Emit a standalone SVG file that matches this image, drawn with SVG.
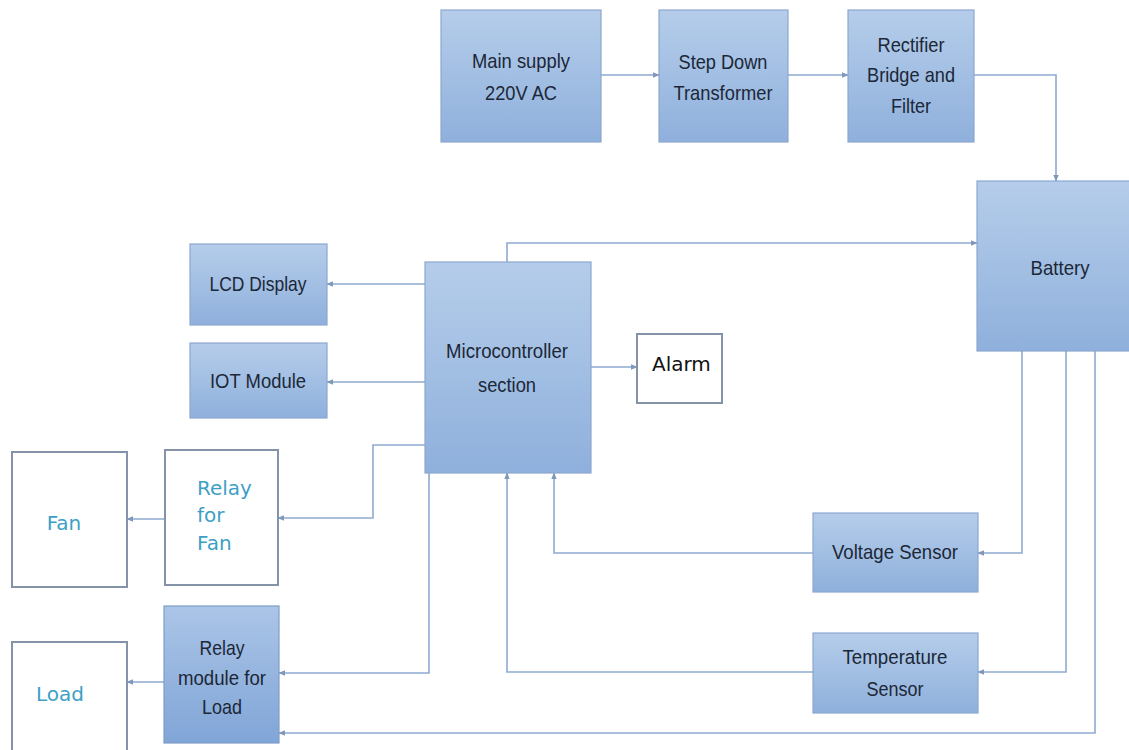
<svg xmlns="http://www.w3.org/2000/svg" width="1129" height="750" viewBox="0 0 1129 750">
  <defs>
    <linearGradient id="blue" x1="0" y1="0" x2="0" y2="1">
      <stop offset="0" stop-color="#b5cdea"/>
      <stop offset="1" stop-color="#8fb0dc"/>
    </linearGradient>
    <linearGradient id="blue2" x1="0" y1="0" x2="0" y2="1">
      <stop offset="0" stop-color="#abc5e7"/>
      <stop offset="1" stop-color="#80a5d7"/>
    </linearGradient>
    <marker id="arr" viewBox="0 0 10 10" refX="9" refY="5" markerWidth="7" markerHeight="7" markerUnits="userSpaceOnUse" orient="auto">
      <path d="M0,1 L10,5 L0,9 Z" fill="#7f98bb"/>
    </marker>
    <style>
      .box { fill: url(#blue); stroke: #8ba7cf; stroke-width: 1.2; }
      .box2 { fill: url(#blue2); stroke: #7f9dc8; stroke-width: 1.2; }
      .wbox { fill: #ffffff; stroke: #8593a8; stroke-width: 2; }
      .lbl { font-family: "Liberation Sans", Arial, sans-serif; font-size: 21px; fill: #1c2737; text-anchor: middle; }
      .tl { font-family: "DejaVu Sans", Verdana, sans-serif; font-size: 20px; fill: #3d9fc6; }
      .al { font-family: "DejaVu Sans", Verdana, sans-serif; font-size: 20px; fill: #111111; }
      .con { fill: none; stroke: #8eaacf; stroke-width: 1.6; }
      .arr { marker-end: url(#arr); }
    </style>
  </defs>
  <rect width="1129" height="750" fill="#ffffff"/>

  <g id="connectors">
    <path class="con arr" d="M601,75 L659,75"/>
    <path class="con arr" d="M788,75 L848,75"/>
    <path class="con arr" d="M974,75 L1056,75 L1056,181"/>
    <path class="con arr" d="M507,262 L507,243 L977,243"/>
    <path class="con arr" d="M425,284 L327,284"/>
    <path class="con arr" d="M425,382 L327,382"/>
    <path class="con arr" d="M591,367 L637,367"/>
    <path class="con arr" d="M425,445 L373,445 L373,518 L278,518"/>
    <path class="con arr" d="M165,519 L127,519"/>
    <path class="con arr" d="M429,473 L429,673 L279,673"/>
    <path class="con arr" d="M164,682 L127,682"/>
    <path class="con arr" d="M1022,351 L1022,553 L978,553"/>
    <path class="con arr" d="M813,553 L554,553 L554,473"/>
    <path class="con arr" d="M1066,351 L1066,672 L978,672"/>
    <path class="con arr" d="M813,672 L507,672 L507,473"/>
    <path class="con arr" d="M1095,351 L1095,733 L279,733"/>
  </g>

  <g id="main-supply">
    <rect class="box" x="441" y="10" width="160" height="132"/>
    <text class="lbl" x="521" y="68" textLength="98" lengthAdjust="spacingAndGlyphs">Main supply</text>
    <text class="lbl" x="521" y="100" textLength="72" lengthAdjust="spacingAndGlyphs">220V AC</text>
  </g>
  <g id="step-down">
    <rect class="box" x="659" y="10" width="129" height="132"/>
    <text class="lbl" x="723" y="69" textLength="89" lengthAdjust="spacingAndGlyphs">Step Down</text>
    <text class="lbl" x="723" y="100" textLength="99" lengthAdjust="spacingAndGlyphs">Transformer</text>
  </g>
  <g id="rectifier">
    <rect class="box" x="848" y="10" width="126" height="132"/>
    <text class="lbl" x="911" y="52" textLength="67" lengthAdjust="spacingAndGlyphs">Rectifier</text>
    <text class="lbl" x="911" y="82" textLength="88" lengthAdjust="spacingAndGlyphs">Bridge and</text>
    <text class="lbl" x="911" y="113" textLength="40" lengthAdjust="spacingAndGlyphs">Filter</text>
  </g>
  <g id="battery">
    <rect class="box" x="977" y="181" width="155" height="170"/>
    <text class="lbl" x="1060" y="275" textLength="59" lengthAdjust="spacingAndGlyphs">Battery</text>
  </g>
  <g id="lcd">
    <rect class="box" x="190" y="244" width="137" height="81"/>
    <text class="lbl" x="258" y="291" textLength="97" lengthAdjust="spacingAndGlyphs">LCD Display</text>
  </g>
  <g id="iot">
    <rect class="box" x="190" y="343" width="137" height="75"/>
    <text class="lbl" x="258" y="388" textLength="96" lengthAdjust="spacingAndGlyphs">IOT Module</text>
  </g>
  <g id="microcontroller">
    <rect class="box" x="425" y="262" width="166" height="211"/>
    <text class="lbl" x="507" y="358" textLength="122" lengthAdjust="spacingAndGlyphs">Microcontroller</text>
    <text class="lbl" x="507" y="392" textLength="58" lengthAdjust="spacingAndGlyphs">section</text>
  </g>
  <g id="alarm">
    <rect class="wbox" x="637" y="334" width="85" height="69"/>
    <text class="al" x="652" y="371">Alarm</text>
  </g>
  <g id="relay-fan">
    <rect class="wbox" x="165" y="450" width="113" height="135"/>
    <text class="tl" x="197" y="495">Relay</text>
    <text class="tl" x="197" y="522">for</text>
    <text class="tl" x="197" y="550">Fan</text>
  </g>
  <g id="fan">
    <rect class="wbox" x="12" y="452" width="115" height="135"/>
    <text class="tl" x="64" y="530" text-anchor="middle">Fan</text>
  </g>
  <g id="relay-load">
    <rect class="box2" x="164" y="606" width="115" height="137"/>
    <text class="lbl" x="222" y="655" textLength="45" lengthAdjust="spacingAndGlyphs">Relay</text>
    <text class="lbl" x="222" y="685" textLength="88" lengthAdjust="spacingAndGlyphs">module for</text>
    <text class="lbl" x="222" y="714" textLength="40" lengthAdjust="spacingAndGlyphs">Load</text>
  </g>
  <g id="load">
    <rect class="wbox" x="12" y="642" width="115" height="115"/>
    <text class="tl" x="60" y="701" text-anchor="middle">Load</text>
  </g>
  <g id="voltage-sensor">
    <rect class="box" x="813" y="513" width="165" height="79"/>
    <text class="lbl" x="895" y="559" textLength="126" lengthAdjust="spacingAndGlyphs">Voltage Sensor</text>
  </g>
  <g id="temperature-sensor">
    <rect class="box" x="813" y="633" width="165" height="80"/>
    <text class="lbl" x="895" y="664" textLength="105" lengthAdjust="spacingAndGlyphs">Temperature</text>
    <text class="lbl" x="895" y="696" textLength="57" lengthAdjust="spacingAndGlyphs">Sensor</text>
  </g>
</svg>
